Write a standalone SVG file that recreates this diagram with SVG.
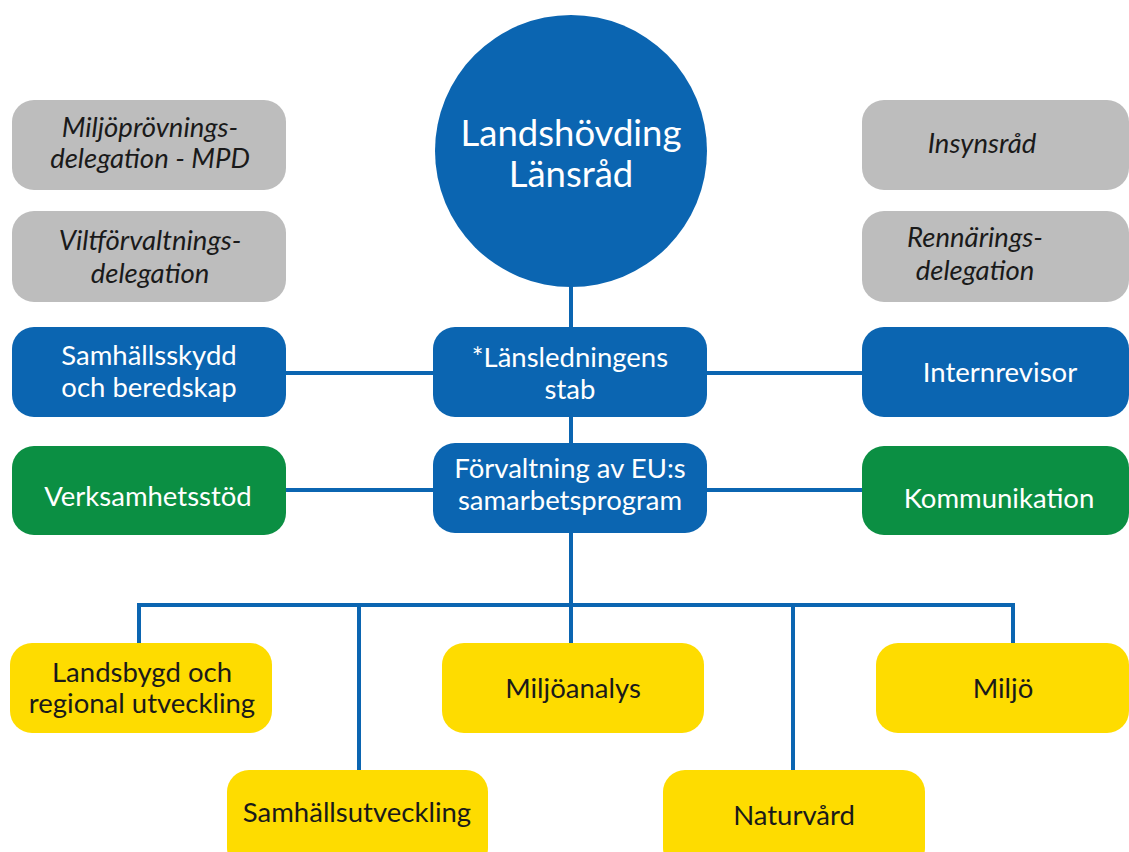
<svg xmlns="http://www.w3.org/2000/svg" width="1129" height="852" viewBox="0 0 1129 852">
<style>
.blue{fill:#0b65b1}
.gray{fill:#bdbdbd}
.green{fill:#0b8f43}
.yellow{fill:#fedc00}
text{font-family:Lato,"Open Sans","Liberation Sans",sans-serif;font-size:27.5px;text-anchor:middle}
.w{fill:#ffffff}
.d{fill:#1a1a1a}
.i{font-style:italic}
.big{font-size:36.5px}
.conn line{stroke:#0b65b1;stroke-width:4;fill:none}
</style>
<rect width="1129" height="852" fill="#ffffff"/>
<g class="conn" id="connectors">
<line x1="571" y1="280" x2="571" y2="330"/>
<line x1="571" y1="415" x2="571" y2="446"/>
<line x1="571" y1="530" x2="571" y2="605"/>
<line x1="284" y1="373" x2="436" y2="373"/>
<line x1="704" y1="373" x2="865" y2="373"/>
<line x1="284" y1="490" x2="436" y2="490"/>
<line x1="704" y1="490" x2="865" y2="490"/>
<line x1="137" y1="605" x2="1015" y2="605"/>
<line x1="139" y1="603" x2="139" y2="646"/>
<line x1="359" y1="603" x2="359" y2="773"/>
<line x1="571" y1="603" x2="571" y2="646"/>
<line x1="793" y1="603" x2="793" y2="773"/>
<line x1="1013" y1="603" x2="1013" y2="646"/>
</g>
<g id="landshovding"><circle class="blue" cx="571" cy="151" r="136"/><text class="w big" x="571" y="146">Landshövding</text><text class="w big" x="571" y="187">Länsråd</text></g>
<g id="mpd"><rect class="gray" x="12" y="100" width="274" height="90" rx="22"/><text class="d i" x="150" y="137">Miljöprövnings-</text><text class="d i" x="150" y="168">delegation - MPD</text></g>
<g id="vilt"><rect class="gray" x="12" y="211" width="274" height="91" rx="22"/><text class="d i" x="150" y="250">Viltförvaltnings-</text><text class="d i" x="150" y="283">delegation</text></g>
<g id="insyn"><rect class="gray" x="862" y="100" width="267" height="90" rx="22"/><text class="d i" x="982" y="153">Insynsråd</text></g>
<g id="renn"><rect class="gray" x="862" y="211" width="267" height="91" rx="22"/><text class="d i" x="975" y="247">Rennärings-</text><text class="d i" x="975" y="280">delegation</text></g>
<g id="samhallsskydd"><rect class="blue" x="12" y="327" width="274" height="90" rx="22"/><text class="w" x="149" y="365">Samhällsskydd</text><text class="w" x="149" y="397">och beredskap</text></g>
<g id="stab"><rect class="blue" x="433" y="327" width="274" height="90" rx="22"/><text class="w" x="570" y="367">*Länsledningens</text><text class="w" x="570" y="399">stab</text></g>
<g id="internrevisor"><rect class="blue" x="862" y="327" width="267" height="90" rx="22"/><text class="w" x="1000" y="382">Internrevisor</text></g>
<g id="verksamhetsstod"><rect class="green" x="12" y="446" width="274" height="89" rx="22"/><text class="w" x="148" y="506">Verksamhetsstöd</text></g>
<g id="eu"><rect class="blue" x="433" y="443" width="274" height="90" rx="22"/><text class="w" x="570" y="478">Förvaltning av EU:s</text><text class="w" x="570" y="510">samarbetsprogram</text></g>
<g id="kommunikation"><rect class="green" x="862" y="446" width="267" height="89" rx="22"/><text class="w" x="999" y="508">Kommunikation</text></g>
<g id="landsbygd"><rect class="yellow" x="10" y="643" width="262" height="90" rx="22"/><text class="d" x="142" y="682">Landsbygd och</text><text class="d" x="142" y="713">regional utveckling</text></g>
<g id="miljoanalys"><rect class="yellow" x="442" y="643" width="262" height="90" rx="22"/><text class="d" x="573" y="698">Miljöanalys</text></g>
<g id="miljo"><rect class="yellow" x="876" y="643" width="253" height="90" rx="22"/><text class="d" x="1003" y="698">Miljö</text></g>
<g id="samhallsutveckling"><rect class="yellow" x="227" y="770" width="261" height="100" rx="22"/><text class="d" x="357" y="822">Samhällsutveckling</text></g>
<g id="naturvard"><rect class="yellow" x="663" y="770" width="262" height="100" rx="22"/><text class="d" x="794" y="825">Naturvård</text></g>
</svg>
